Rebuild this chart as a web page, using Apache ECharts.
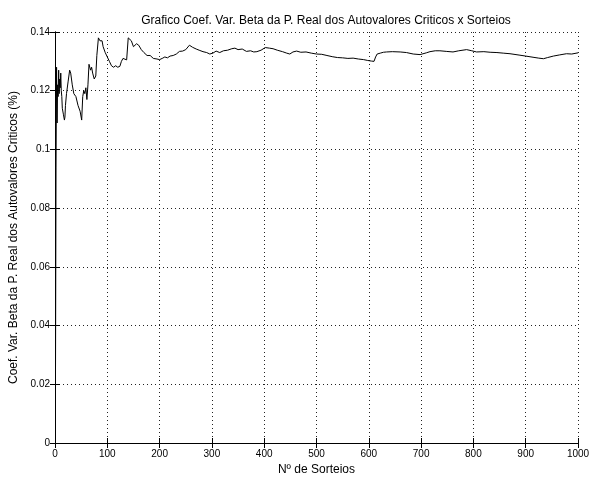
<!DOCTYPE html>
<html><head><meta charset="utf-8">
<script src="https://cdn.jsdelivr.net/npm/echarts@6/dist/echarts.min.js"></script>
<style>html,body{margin:0;padding:0;background:#fff}#c{width:601px;height:478px}</style>
</head><body><div id="c"></div>
<script>
const titleText = 'Grafico Coef. Var. Beta da P. Real dos Autovalores Criticos x Sorteios';
const xName = 'Nº de Sorteios';
const yName = 'Coef. Var. Beta da P. Real dos Autovalores Criticos (%)';
const xTicks = [0,100,200,300,400,500,600,700,800,900,1000];
const yTicks = [0,0.02,0.04,0.06,0.08,0.1,0.12,0.14];
const sorteios = [1,2,3,4,5,6,7,8,9,10,11,12,13,14,16,18,19,20,22,25,28,30,33,36,40,44,48,51,53,55,57,59,61,63,65,68,70,72,75,78,80,83,86,88,90,92,96,100,104,108,112,116,120,124,127,130,133,137,139,140,143,146,150,153,156,160,165,170,176,182,188,195,200,205,210,215,220,226,232,238,244,250,257,263,270,277,283,290,296,302,308,315,322,330,338,344,350,358,366,374,380,386,394,402,410,417,425,435,443,449,455,462,470,480,490,500,510,520,530,540,550,560,570,580,590,598,605,610,613,616,622,628,634,645,660,672,685,698,710,717,727,736,748,761,772,787,797,806,820,832,845,857,870,889,900,914,925,934,942,953,965,978,988,1000];
const coefVar = [0.026,0.094,0.128,0.109,0.122,0.118,0.127,0.119,0.124,0.121,0.126,0.120,0.118,0.114,0.112,0.110,0.111,0.115,0.119,0.123,0.127,0.126,0.122,0.119,0.118,0.115,0.113,0.110,0.118,0.120,0.119,0.121,0.117,0.122,0.129,0.127,0.128,0.126,0.124,0.125,0.132,0.138,0.137,0.1365,0.137,0.135,0.133,0.1315,0.130,0.1285,0.128,0.1285,0.128,0.1283,0.130,0.131,0.1305,0.1305,0.131,0.138,0.1375,0.137,0.135,0.1345,0.136,0.1355,0.134,0.133,0.132,0.132,0.131,0.1308,0.1306,0.131,0.1315,0.1312,0.1318,0.132,0.1325,0.1334,0.1335,0.134,0.1355,0.1348,0.1342,0.1337,0.1333,0.133,0.1325,0.1328,0.1335,0.133,0.1336,0.1338,0.1343,0.1345,0.134,0.1342,0.1334,0.1336,0.1332,0.1333,0.1338,0.1347,0.1345,0.1343,0.1338,0.1333,0.1328,0.1325,0.1332,0.1335,0.1331,0.1332,0.1328,0.1325,0.1324,0.132,0.1316,0.1313,0.1312,0.131,0.1311,0.1308,0.1306,0.1303,0.1301,0.130,0.1315,0.1325,0.1328,0.1331,0.1332,0.1333,0.1332,0.1330,0.1325,0.1323,0.1329,0.1333,0.1336,0.1336,0.1334,0.1332,0.1336,0.134,0.1336,0.1332,0.1333,0.1331,0.1330,0.1328,0.1326,0.1321,0.1318,0.1314,0.1311,0.1309,0.1313,0.1318,0.1322,0.1326,0.1325,0.1329];

const font = 'Liberation Sans';
const data = sorteios.map((s,i)=>[s,coefVar[i]]);
const chart = echarts.init(document.getElementById('c'), null, {renderer:'canvas'});
const axisLine = {show:true,lineStyle:{color:'#000',width:1}};
const gridDotted = {show:true,lineStyle:{color:'#222',type:[1,3],width:1}};
const tick = {show:true,inside:true,length:5,lineStyle:{color:'#000'}};
chart.setOption({
  animation:false,
  backgroundColor:'#fff',
  title:{text:titleText,left:321,top:10,textAlign:'center',textStyle:{fontFamily:font,fontSize:12,fontWeight:'normal',color:'#000'}},
  grid:{left:55,right:23,top:32,bottom:35,containLabel:false,outerBoundsMode:'none'},
  xAxis:[{type:'value',min:0,max:1000,interval:100,name:xName,nameLocation:'middle',nameGap:21,
    nameTextStyle:{fontFamily:font,fontSize:12,color:'#000'},
    axisLine:axisLine,axisTick:tick,
    axisLabel:{fontFamily:font,fontSize:10,color:'#000',margin:6,formatter:v=>String(v)},splitLine:gridDotted},
    {type:'value',position:'top',min:0,max:1000,interval:100,axisLine:axisLine,
    axisTick:tick,axisLabel:{show:false},splitLine:{show:false}}],
  yAxis:[{type:'value',min:0,max:0.14,interval:0.02,name:yName,nameLocation:'middle',nameGap:34,
    nameTextStyle:{fontFamily:font,fontSize:12,color:'#000'},
    axisLine:axisLine,axisTick:tick,
    axisLabel:{fontFamily:font,fontSize:10,color:'#000',margin:5,formatter:v=>String(+v.toFixed(2))},splitLine:gridDotted},
    {type:'value',position:'right',min:0,max:0.14,interval:0.02,axisLine:axisLine,
    axisTick:tick,axisLabel:{show:false},splitLine:{show:false}}],
  series:[{type:'line',data:data,showSymbol:false,symbol:'none',lineStyle:{color:'#000',width:1},z:5}]
});
</script></body></html>
